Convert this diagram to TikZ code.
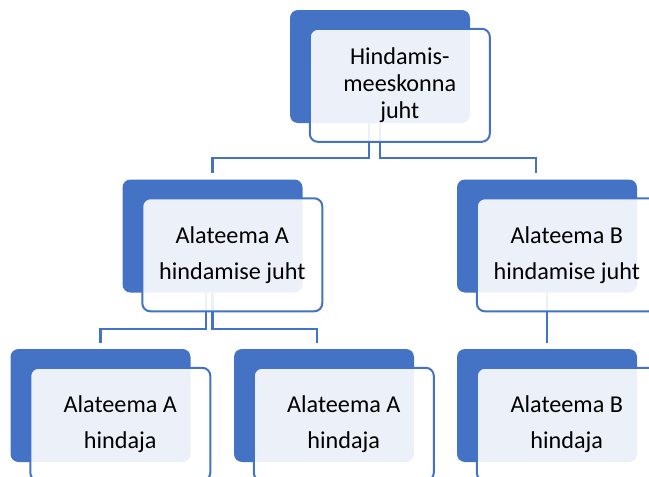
\documentclass[tikz,border=0pt]{standalone}
\usepackage{fontspec}
\setmainfont{Carlito}
\definecolor{orgblue}{HTML}{4472C4}

\begin{document}
\begin{tikzpicture}[x=1pt, y=-1pt,
  back/.style={fill=orgblue, rounded corners=8pt, minimum width=180pt, minimum height=113pt, inner sep=0pt},
  front/.style={draw=orgblue, line width=2pt, fill=white, fill opacity=0.9, text opacity=1,
    rounded corners=8pt, minimum width=180pt, minimum height=113pt, inner sep=0pt,
    anchor=north west, xshift=19pt, yshift=-18pt, align=center,
    font=\fontsize{24.2}{36}\selectfont},
  link/.style={draw=orgblue, line width=2.2pt}]
  \useasboundingbox (0,0) rectangle (649,477);
  \clip (0,0) rectangle (649,477);

  % dark boxes
  \node[name=lead, back] at (380,66.5) {};
  \node[name=leadA, back] at (212.5,236) {};
  \node[name=leadB, back] at (547,236) {};
  \node[name=raterA1, back] at (100.5,405.5) {};
  \node[name=raterA2, back] at (324,405.5) {};
  \node[name=raterB, back] at (547,405.5) {};

  % connectors
  \draw[link] ([xshift=-11pt]lead.south) |- ([yshift=21pt]leadA.north) -- ([yshift=6pt]leadA.north);
  \draw[link] (lead.south) |- ([xshift=-11pt,yshift=21pt]leadB.north) -- ([xshift=-11pt,yshift=6pt]leadB.north);
  \draw[link] ([xshift=-6.5pt]leadA.south) |- ([yshift=20pt]raterA1.north) -- ([yshift=6pt]raterA1.north);
  \draw[link] (leadA.south) |- ([xshift=-7pt,yshift=20pt]raterA2.north) -- ([xshift=-7pt,yshift=6pt]raterA2.north);
  \draw[link] (leadB.south) -- ([yshift=6pt]raterB.north);

  % text boxes
  \node[name=leadtxt, front, font=\fontsize{24.2}{27}\selectfont] at (lead.north west) {Hindamis-\\meeskonna\\juht};
  \node[name=leadAtxt, front] at (leadA.north west) {Alateema A\\hindamise juht};
  \node[name=leadBtxt, front] at (leadB.north west) {Alateema B\\hindamise juht};
  \node[name=raterA1txt, front] at (raterA1.north west) {Alateema A\\hindaja};
  \node[name=raterA2txt, front] at (raterA2.north west) {Alateema A\\hindaja};
  \node[name=raterBtxt, front] at (raterB.north west) {Alateema B\\hindaja};
\end{tikzpicture}
\end{document}
